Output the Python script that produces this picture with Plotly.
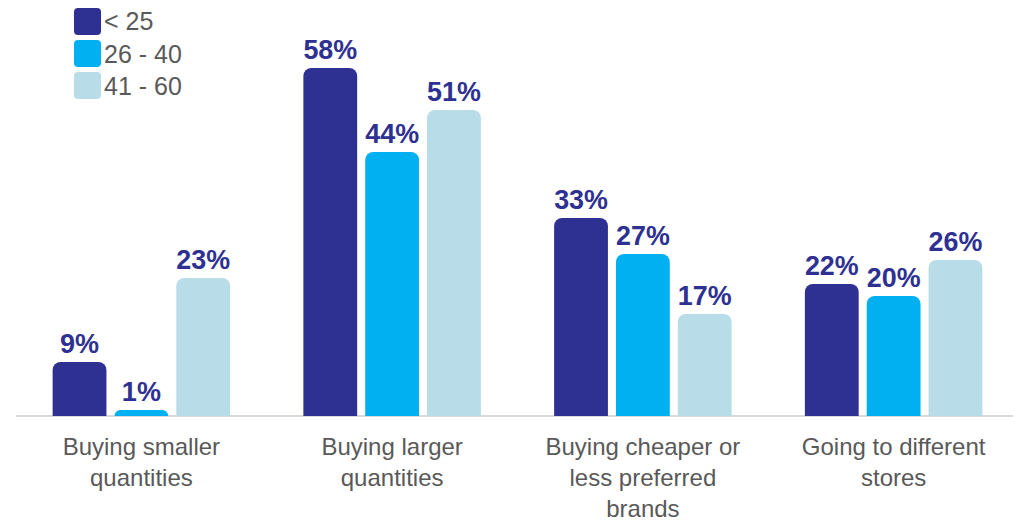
import plotly.graph_objects as go

categorias = [
    "Buying smaller<br>quantities",
    "Buying larger<br>quantities",
    "Buying cheaper or<br>less preferred<br>brands",
    "Going to different<br>stores",
]
grupos = ["< 25", "26 - 40", "41 - 60"]
menor_25 = [9, 58, 33, 22]
de_26_40 = [1, 44, 27, 20]
de_41_60 = [23, 51, 17, 26]
colores = ["#2E3192", "#00B0F0", "#B8DCE8"]

valores = [menor_25, de_26_40, de_41_60]

ANCHO, ALTO = 1021, 522
M_IZQ, M_DER, M_SUP, M_INF = 8, 10, 0, 114
ancho_plot = ANCHO - M_IZQ - M_DER
alto_plot = ALTO - M_SUP - M_INF


def caja_redondeada(px0, py0, px1, py1, r=4):
    """Path SVG en coordenadas paper para un cuadro con esquinas redondeadas."""
    fx = lambda v: (v - M_IZQ) / ancho_plot
    fy = lambda v: 1 - (v - M_SUP) / alto_plot
    return (
        f"M {fx(px0 + r)},{fy(py0)} L {fx(px1 - r)},{fy(py0)} "
        f"Q {fx(px1)},{fy(py0)} {fx(px1)},{fy(py0 + r)} "
        f"L {fx(px1)},{fy(py1 - r)} Q {fx(px1)},{fy(py1)} {fx(px1 - r)},{fy(py1)} "
        f"L {fx(px0 + r)},{fy(py1)} Q {fx(px0)},{fy(py1)} {fx(px0)},{fy(py1 - r)} "
        f"L {fx(px0)},{fy(py0 + r)} Q {fx(px0)},{fy(py0)} {fx(px0 + r)},{fy(py0)} Z"
    )


fig = go.Figure()
for nombre, vals, color in zip(grupos, valores, colores):
    fig.add_trace(go.Bar(
        name=nombre,
        x=categorias,
        y=vals,
        marker=dict(color=color, line=dict(width=0)),
        texttemplate="%{y}%",
        textposition="outside",
        textfont=dict(family="Liberation Sans", size=27, color="#2E3192", weight="bold"),
        cliponaxis=False,
        showlegend=False,
    ))

# leyenda dibujada a mano (cuadros grandes redondeados)
for i, (nombre, color) in enumerate(zip(grupos, colores)):
    y0 = i * 32
    fig.add_shape(
        type="path", xref="paper", yref="paper",
        path=caja_redondeada(66, y0, 93, y0 + 27),
        fillcolor=color, line=dict(width=0), layer="above",
    )
    fig.add_annotation(
        x=(94 - M_IZQ) / ancho_plot, y=1 - (y0 + 13.5) / alto_plot,
        xref="paper", yref="paper", xanchor="left", yanchor="middle",
        text=nombre, showarrow=False,
        font=dict(family="Liberation Sans", size=25, color="#595959"),
    )

fig.update_layout(
    width=ANCHO,
    height=ALTO,
    margin=dict(l=M_IZQ, r=M_DER, t=M_SUP, b=M_INF),
    barmode="group",
    bargap=0.26,
    bargroupgap=0.13,
    barcornerradius=8,
    plot_bgcolor="white",
    paper_bgcolor="white",
    xaxis=dict(
        showgrid=False,
        showline=False,
        ticks="",
        ticklabelstandoff=14,
        tickfont=dict(family="Liberation Sans", size=24, color="#595959"),
    ),
    yaxis=dict(
        range=[0, 68],
        showgrid=False,
        showticklabels=False,
        zeroline=True,
        zerolinecolor="#D9D9D9",
        zerolinewidth=2,
    ),
)

fig.write_html("out.html")
